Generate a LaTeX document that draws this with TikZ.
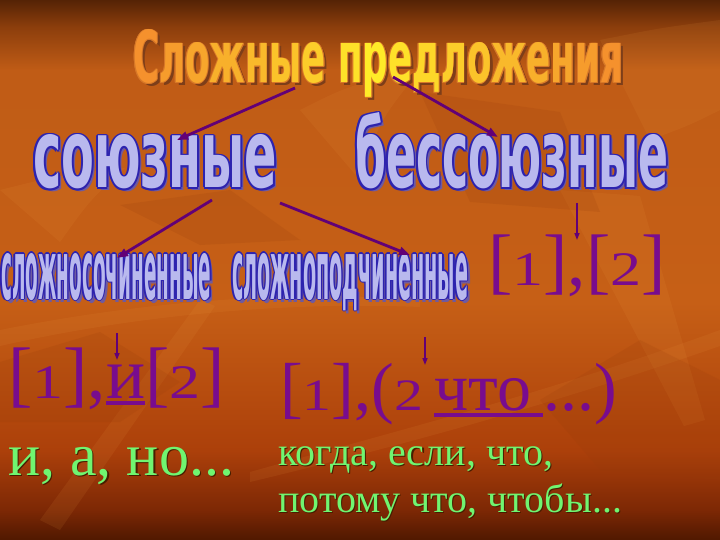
\documentclass[tikz,border=0pt]{standalone}
\usepackage{fontspec}
\setmainfont{Liberation Serif}
\newfontfamily\wafont{DejaVu Sans}
\usepackage{graphicx}
\usetikzlibrary{calc,arrows.meta}

\definecolor{bg0}{RGB}{85,35,5}
\definecolor{bg1}{RGB}{140,62,12}
\definecolor{bg2}{RGB}{192,92,22}
\definecolor{bg3}{RGB}{198,95,22}
\definecolor{bg4}{RGB}{172,64,10}
\definecolor{bg5}{RGB}{125,40,5}
\definecolor{bg6}{RGB}{80,24,0}
\definecolor{bgl}{RGB}{240,160,70}
\definecolor{bgd}{RGB}{150,60,10}
\definecolor{ttlO}{RGB}{245,145,45}
\definecolor{ttlY}{RGB}{255,235,40}
\definecolor{ttlS}{RGB}{125,62,25}
\definecolor{ttlL}{RGB}{215,120,40}
\definecolor{lav}{RGB}{185,185,238}
\definecolor{lavline}{RGB}{45,35,175}
\definecolor{lavshadow}{RGB}{110,90,160}
\definecolor{purp}{RGB}{120,12,142}
\definecolor{arrpurp}{RGB}{98,0,118}
\definecolor{lgreen}{RGB}{112,245,112}
\definecolor{gshadow}{RGB}{70,30,0}

\pgfdeclareverticalshading{bgshade}{100bp}{color(0bp)=(bg6); color(25bp)=(bg6); color(27.8bp)=(bg5); color(33.3bp)=(bg4); color(47bp)=(bg3); color(68.5bp)=(bg2); color(72.5bp)=(bg1); color(75bp)=(bg0); color(100bp)=(bg0)}

% condensed word-art text: width, x-height, text
\newcommand\wa[3]{\resizebox{#1}{#2}{\wafont\bfseries\raisebox{0pt}[0.56em]{#3}}}
% letter colour of the title (yellow share in percent)
\def\tlcolor#1#2{{\color{ttlY!#1!ttlO}#2}}
\def\tlplain#1#2{#2}
\let\tl\tlcolor
% old-style looking digits and a thick underline
\newcommand\dg[1]{\scalebox{0.85}[0.66]{#1}}
\newcommand\uline[1]{\setbox0\hbox{#1}\rlap{\rule[-0.1em]{\wd0}{0.06em}}\box0}
% name, base point, outline, fill, shadow, outline radius, text
\newcommand\wordart[7]{%
  \node[wordtxt, text=#5] at ($(#2)+(3,3)$) {\let\tl\tlplain#7};
  \foreach \ang in {0,45,...,315}
    \node[wordtxt, text=#3] at ($(#2)+(\ang:#6)$) {\let\tl\tlplain#7};
  \node[wordtxt, text=#4] (#1) at (#2) {#7};
}

\begin{document}
\begin{tikzpicture}[x=1pt, y=-1pt,
    wordtxt/.style={inner sep=0, anchor=base west},
    formula/.style={inner sep=0, anchor=base west, text=purp, font=\fontsize{73}{80}\selectfont},
    conj/.style={inner sep=0, anchor=base west, text=lgreen},
    bigarr/.style={draw=arrpurp, line width=2.8pt, -{Triangle[length=11pt,width=8pt]}},
    smallarr/.style={draw=arrpurp, line width=1.4pt, -{Triangle[length=7pt,width=5pt]}},
    streak/.style={fill=bgl, opacity=0.1},
    dshape/.style={fill=bgd, opacity=0.16}]
    %%%%% BACKGROUND %%%%%
    \useasboundingbox (0,0) rectangle (720,540);
    \shade[shading=bgshade] (0,0) rectangle (720,540);
    
    \fill[streak] (0,330) .. controls (150,300) and (300,290) .. (420,300) -- (420,307) .. controls (300,302) and (150,312) .. (0,346) -- cycle;
    \fill[streak] (250,472) .. controls (400,430) and (550,392) .. (720,330) -- (720,346) .. controls (550,405) and (400,446) .. (250,482) -- cycle;
    \fill[streak] (560,190) -- (640,196) -- (705,420) -- (684,426) -- cycle;
    \fill[streak] (0,190) .. controls (60,175) .. (125,168) .. controls (90,200) .. (60,242) -- cycle;
    \fill[streak] (300,110) .. controls (350,85) .. (420,70) .. controls (380,120) .. (360,180) -- cycle;
    \fill[streak] (40,520) -- (200,300) -- (215,306) -- (60,530) -- cycle;
    \fill[streak] (600,40) .. controls (660,28) .. (720,20) -- (720,110) .. controls (690,125) .. (650,140) -- cycle;
    \fill[dshape] (420,92) -- (560,112) -- (600,212) -- (470,202) -- cycle;
    \fill[dshape] (0,362) -- (100,332) -- (180,382) -- (120,422) -- (0,422) -- cycle;
    \fill[dshape] (120,205) -- (230,190) -- (300,240) -- (200,245) -- cycle;
    \fill[dshape] (540,400) -- (640,340) -- (720,380) -- (720,480) -- (600,470) -- cycle;
    
    %%%%% HEADINGS %%%%%
    \wordart{title}{133,83}{ttlL}{ttlO}{ttlS}{0.9}{\wa{490pt}{40pt}{\tl{0}{С}\tl{12}{л}\tl{23}{о}\tl{34}{ж}\tl{45}{н}\tl{56}{ы}\tl{67}{е} \tl{89}{п}\tl{100}{р}\tl{89}{е}\tl{78}{д}\tl{67}{л}\tl{56}{о}\tl{45}{ж}\tl{34}{е}\tl{23}{н}\tl{12}{и}\tl{0}{я}}}
    
    \wordart{soyuz}{33,188}{lavline}{lav}{lavshadow}{1.8}{\wa{244pt}{53pt}{союзные}}
    \wordart{bessoyuz}{355,188}{lavline}{lav}{lavshadow}{1.8}{\wa{313pt}{53pt}{бессоюзные}}
    
    \wordart{slozhnosoch}{1,299}{lavline}{lav}{lavshadow}{1.3}{\wa{210pt}{46pt}{сложносочиненные}}
    \wordart{slozhnopod}{232,299}{lavline}{lav}{lavshadow}{1.3}{\wa{236pt}{46pt}{сложноподчиненные}}
    
    %%%%% SCHEMES %%%%%
    \node[formula] (bsu) at (488,285) {[\dg{1}],[\dg{2}]};
    \node[formula] (ssp) at (8,398) {[\dg{1}],\uline{и}[\dg{2}]};
    \node[formula, font=\fontsize{68}{74}\selectfont] (spp) at (280,410) {[\dg{1}],(\dg{2}\hspace{0.17em}\uline{что\hspace{0.17em}}...)};
    
    %%%%% CONJUNCTIONS %%%%%
    \node[conj, text=gshadow, font=\fontsize{60}{66}\selectfont] at (9.5,476.5) {и, а, но...};
    \node[conj, font=\fontsize{60}{66}\selectfont] (ssconj) at (8,475) {и, а, но...};
    \node[conj, text=gshadow, font=\fontsize{40}{46}\selectfont] at (279.2,466.2) {когда, если, что,};
    \node[conj, font=\fontsize{40}{46}\selectfont] (spconja) at (278,465) {когда, если, что,};
    \node[conj, text=gshadow, font=\fontsize{40}{46}\selectfont] at (279.2,513.2) {потому что, чтобы...};
    \node[conj, font=\fontsize{40}{46}\selectfont] (spconjb) at (278,512) {потому что, чтобы...};
    
    %%%%% ARROWS %%%%%
    \draw[bigarr] ($(title.base west)+(162,5)$) -- ($(soyuz.base west)+(144,-48)$);
    \draw[bigarr] ($(title.base west)+(260,-6)$) -- ($(bessoyuz.base west)+(143,-51)$);
    \draw[bigarr] ($(soyuz.base west)+(179,12)$) -- ($(slozhnosoch.base west)+(116,-41)$);
    \draw[bigarr] ($(soyuz.base west)+(247,15)$) -- ($(slozhnopod.base west)+(178,-44)$);
    
    \draw[smallarr] ($(bessoyuz.base west)+(222,15)$) -- ($(bsu.base west)+(89,-45)$);
    \draw[smallarr] ($(ssp.base west)+(109,-65)$) -- ($(ssp.base west)+(109,-38)$);
    \draw[smallarr] ($(spp.base west)+(145,-73)$) -- ($(spp.base west)+(145,-45)$);
    %%%%% END %%%%%
\end{tikzpicture}
\end{document}
